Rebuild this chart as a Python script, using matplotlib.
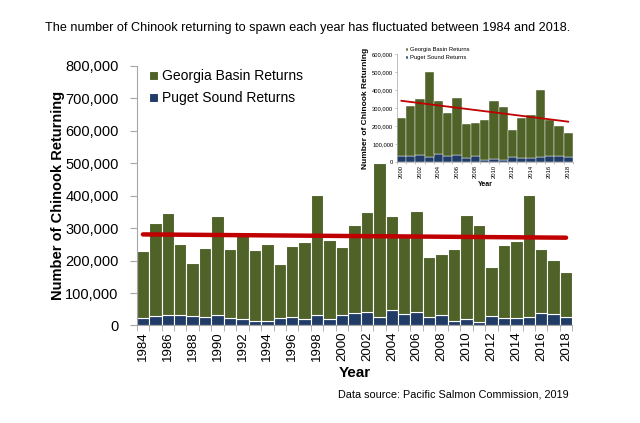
import numpy as np
import matplotlib
matplotlib.use('Agg')
import matplotlib.pyplot as plt
from matplotlib.ticker import FuncFormatter, MultipleLocator

plt.rcParams['font.family'] = ['Liberation Sans', 'DejaVu Sans']

years = np.arange(1984, 2019)
puget = [24000, 30000, 33000, 31000, 30000, 26000, 33000, 24000, 19000, 15000,
         14000, 22000, 26000, 20000, 31000, 21000, 33000, 37000, 41000, 27000,
         48000, 34000, 41000, 26000, 33000, 15000, 19000, 12000, 29000, 23000,
         22000, 27000, 37000, 34000, 27000]
georgia = [205000, 285000, 315000, 221000, 164000, 213000, 306000, 213000, 259000, 219000,
           237000, 167000, 220000, 237000, 370000, 243000, 210000, 274000, 309000, 473000,
           291000, 238000, 313000, 185000, 187000, 220000, 323000, 297000, 151000, 224000,
           239000, 375000, 199000, 168000, 137000]

green = '#4f6228'
blue = '#1f3b66'
red = '#c00000'
grey = '#a6a6a6'

puget = np.array(puget)
georgia = np.array(georgia)
total = puget + georgia
fmt = FuncFormatter(lambda v, p: f'{int(v):,}')

fig = plt.figure(figsize=(6.4, 4.23), dpi=100)

# main chart
ax = fig.add_axes([0.2136, 0.2305, 0.6806, 0.6135])
ax.bar(years, puget, width=1.0, color=blue, edgecolor='white', linewidth=0.8, label='Puget Sound Returns')
ax.bar(years, georgia, bottom=puget, width=1.0, color=green, edgecolor='white', linewidth=0.8,
       label='Georgia Basin Returns')
k, b = np.polyfit(years, total, 1)
ax.plot([years[0], years[-1]], [k * years[0] + b, k * years[-1] + b], color=red, lw=3.2, solid_capstyle='round')
ax.set_xlim(1983.5, 2018.5)
ax.set_ylim(0, 800000)
ax.yaxis.set_major_locator(MultipleLocator(100000))
ax.yaxis.set_major_formatter(fmt)
ax.set_xticks(years[::2])
ax.set_xticklabels([str(y) for y in years[::2]], rotation=90, fontsize=9.5)
ax.set_xticks(np.arange(1983.5, 2019, 1), minor=True)
ax.tick_params(axis='x', which='major', length=0, pad=4)
ax.tick_params(axis='x', which='minor', length=4, color=grey)
ax.tick_params(axis='y', labelsize=10.5, length=5, color=grey, pad=8)
for s in ['top', 'right']:
    ax.spines[s].set_visible(False)
for s in ['left', 'bottom']:
    ax.spines[s].set_color(grey)
ax.set_ylabel('Number of Chinook Returning', fontsize=10.5, fontweight='bold', labelpad=0.5)
ax.set_xlabel('Year', fontsize=11, fontweight='bold', labelpad=4)
h, l = ax.get_legend_handles_labels()
ax.legend([h[1], h[0]], [l[1], l[0]], loc='upper left', bbox_to_anchor=(0.0, 1.035), frameon=False,
          fontsize=10, handlelength=0.6, handleheight=0.6, handletextpad=0.3, labelspacing=0.55)

# inset, 2000 onwards
m = years >= 2000
ins = fig.add_axes([0.62, 0.6163, 0.275, 0.256])
ins.bar(years[m], puget[m], width=1.0, color=blue, edgecolor='white', linewidth=0.3, label='Puget Sound Returns')
ins.bar(years[m], georgia[m], bottom=puget[m], width=1.0, color=green, edgecolor='white', linewidth=0.3,
        label='Georgia Basin Returns')
k2, b2 = np.polyfit(years[m], total[m], 1)
x0, x1 = years[m][0], years[m][-1]
ins.plot([x0, x1], [k2 * x0 + b2, k2 * x1 + b2], color=red, lw=1.3)
ins.set_xlim(1999.5, 2018.5)
ins.set_ylim(0, 600000)
ins.yaxis.set_major_locator(MultipleLocator(100000))
ins.yaxis.set_major_formatter(fmt)
ins.set_xticks(years[m][::2])
ins.set_xticklabels([str(y) for y in years[m][::2]], rotation=90, fontsize=4.2)
ins.set_xticks(np.arange(1999.5, 2019, 1), minor=True)
ins.tick_params(axis='x', which='major', length=0, pad=2)
ins.tick_params(axis='x', which='minor', length=1.5, color=grey, width=0.5)
ins.tick_params(axis='y', labelsize=4.2, length=1.5, color=grey, width=0.5, pad=1)
for s in ['top', 'right']:
    ins.spines[s].set_visible(False)
for s in ['left', 'bottom']:
    ins.spines[s].set_color(grey)
    ins.spines[s].set_linewidth(0.5)
ins.set_ylabel('Number of Chinook Returning', fontsize=6, fontweight='bold', labelpad=2)
ins.set_xlabel('Year', fontsize=5, fontweight='bold', labelpad=2)
h, l = ins.get_legend_handles_labels()
ins.legend([h[1], h[0]], [l[1], l[0]], loc='upper left', bbox_to_anchor=(0.02, 1.11), frameon=False,
           fontsize=4.2, handlelength=0.5, handleheight=0.5, handletextpad=0.3, labelspacing=0.5)

fig.text(0.48, 0.934, 'The number of Chinook returning to spawn each year has fluctuated between 1984 and 2018.',
         ha='center', va='center', fontsize=9.1)
fig.text(0.888, 0.068, 'Data source: Pacific Salmon Commission, 2019', ha='right', va='center', fontsize=7.8)

fig.savefig('out.png', dpi=100)
